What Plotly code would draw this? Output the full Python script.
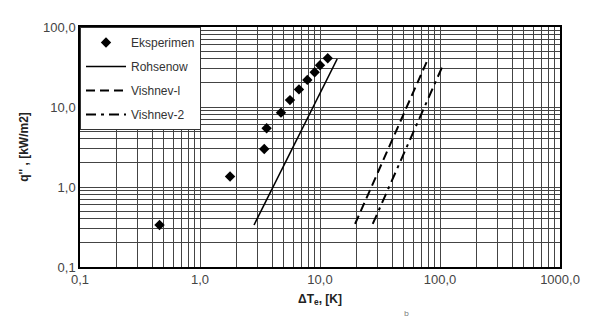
import plotly.graph_objects as go

# Data
exp_dT = [0.46, 1.78, 3.43, 3.59, 4.73, 5.62, 6.68, 7.84, 9.03, 10.0, 11.6]
exp_q = [0.335, 1.35, 2.98, 5.42, 8.5, 12.2, 16.6, 21.8, 27.2, 33.2, 40.6]
rohsenow_dT = [2.82, 13.9]
rohsenow_q = [0.335, 39.8]
vishnev1_dT = [19.6, 77.5]
vishnev1_q = [0.345, 36.8]
vishnev2_dT = [27.5, 106.6]
vishnev2_q = [0.345, 34.2]

x_tickvals = [0.1, 1, 10, 100, 1000]
x_ticktext = ["0,1", "1,0", "10,0", "100,0", "1000,0"]
y_tickvals = [0.1, 1, 10, 100]
y_ticktext = ["0,1", "1,0", "10,0", "100,0"]

fig = go.Figure()
fig.add_trace(go.Scatter(x=exp_dT, y=exp_q, mode="markers", name="Eksperimen", legendgroup="a",
                         marker=dict(symbol="diamond", size=8, color="black")))
fig.add_trace(go.Scatter(x=rohsenow_dT, y=rohsenow_q, mode="lines", name="Rohsenow", legendgroup="b",
                         line=dict(color="black", width=1.6)))
fig.add_trace(go.Scatter(x=vishnev1_dT, y=vishnev1_q, mode="lines", name="Vishnev-l", legendgroup="c",
                         line=dict(color="black", width=2, dash="9px,5px")))
fig.add_trace(go.Scatter(x=vishnev2_dT, y=vishnev2_q, mode="lines", name="Vishnev-2", legendgroup="d",
                         line=dict(color="black", width=2, dash="10px,5px,3px,5px")))

grid_color = "#444444"
fig.update_xaxes(type="log", range=[-1, 3], tickvals=x_tickvals, ticktext=x_ticktext,
                 showgrid=True, gridcolor=grid_color, gridwidth=1,
                 minor=dict(showgrid=True, dtick="D1", gridcolor=grid_color, gridwidth=1, ticks=""),
                 showline=True, linecolor="black", linewidth=1.5, mirror=True,
                 ticks="", zeroline=False,
                 tickfont=dict(family="Liberation Sans, Arial", size=13, color="#444"),
                 title=dict(text="<b>ΔT<sub>e</sub>, [K]</b>", standoff=8,
                            font=dict(family="Liberation Sans, Arial", size=12, color="#222")))
fig.update_yaxes(type="log", range=[-1, 2], tickvals=y_tickvals, ticktext=y_ticktext,
                 showgrid=True, gridcolor=grid_color, gridwidth=1,
                 minor=dict(showgrid=True, dtick="D1", gridcolor=grid_color, gridwidth=1, ticks=""),
                 showline=True, linecolor="black", linewidth=1.5, mirror=True,
                 ticks="", zeroline=False,
                 tickfont=dict(family="Liberation Sans, Arial", size=13, color="#444"),
                 title=dict(text="<b>q'' , [kW/m2]</b>", standoff=12,
                            font=dict(family="Liberation Sans, Arial", size=12, color="#222")))

fig.update_layout(
    width=593, height=324,
    margin=dict(l=80, r=33, t=27, b=57),
    paper_bgcolor="white", plot_bgcolor="white",
    showlegend=True,
    legend=dict(x=0, y=1, xanchor="left", yanchor="top", bgcolor="white",
                bordercolor="#333", borderwidth=1, tracegroupgap=5,
                itemwidth=40,
                font=dict(family="Liberation Sans, Arial", size=12, color="#333")),
)
fig.add_annotation(x=0.69, y=-0.22, xref="paper", yref="paper", text="b", showarrow=False,
                   font=dict(size=8, color="#777"))
fig.write_html("out.html")
